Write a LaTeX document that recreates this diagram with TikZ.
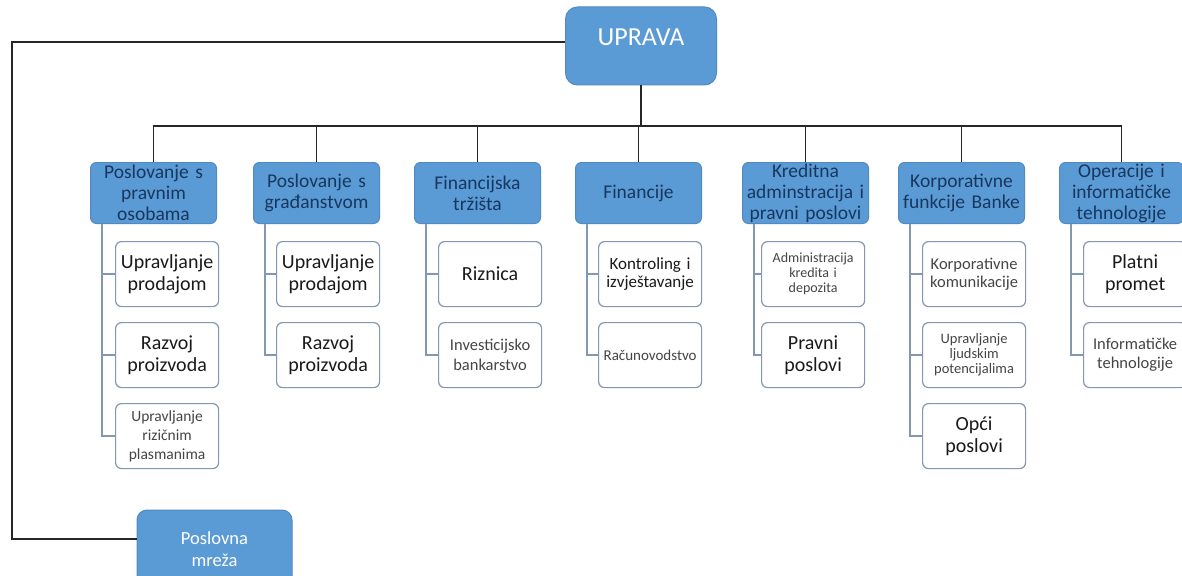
\documentclass[tikz,border=0pt]{standalone}
\usepackage{fontspec}
\setmainfont{Carlito}
\definecolor{ublue}{HTML}{5B9BD5}
\definecolor{ubord}{HTML}{4F8AC4}
\definecolor{navy}{HTML}{17375E}
\definecolor{kbord}{HTML}{8497B0}
\definecolor{ktext}{HTML}{1A1A1A}
\definecolor{ksmall}{HTML}{454545}
\newcommand{\fs}[2]{\fontsize{#1}{#2}\selectfont}
\begin{document}
\begin{tikzpicture}[x=1pt,y=-1pt,
  topbox/.style={fill=ublue,draw=ubord,line width=1pt,rounded corners=12pt,text=white,align=center},
  parbox/.style={fill=ublue,draw=ubord,line width=1pt,rounded corners=6pt,anchor=north west,
    minimum width=126pt,minimum height=61pt,text width=124pt,inner sep=1pt,align=center,
    text=navy,font=\fs{19.5}{21}},
  kid/.style={fill=white,draw=kbord,line width=1.2pt,rounded corners=6pt,anchor=north west,
    minimum width=103pt,minimum height=65pt,text width=101pt,inner sep=1pt,align=center,text=ktext},
  kbig/.style={kid,font=\fs{20}{22}},
  ksm/.style={kid,text=ksmall},
  bus/.style={draw=black!85,line width=1.6pt},
  sub/.style={draw=kbord,line width=1.5pt}]
\useasboundingbox (0,0) rectangle (1182,575);
\clip (0,0) rectangle (1182,575);
\fill[white] (0,0) rectangle (1182,575);

% top and network
\node[topbox,minimum width=151pt,minimum height=78pt,font=\fs{26}{28},text height=20pt,text depth=20pt,inner sep=0pt] (up) at (641,46) {UPRAVA};
\node[topbox,rounded corners=10pt,minimum width=155pt,minimum height=78pt,font=\fs{18.5}{22}] (pm) at (214.5,549) {Poslovna\\mreža};

% parents
\node[parbox] (p1) at (90,162) {Poslovanje s\\pravnim\\osobama};
\node[parbox] (p2) at (253,162) {Poslovanje s\\građanstvom};
\node[parbox] (p3) at (414,162) {Financijska\\tržišta};
\node[parbox] (p4) at (575,162) {Financije};
\node[parbox] (p5) at (742,162) {Kreditna\\adminstracija i\\pravni poslovi};
\node[parbox] (p6) at (898,162) {Korporativne\\funkcije Banke};
\node[parbox,minimum width=124pt,text width=122pt] (p7) at (1059,162) {Operacije i\\informatičke\\tehnologije};

% children
\node[kbig] (c11) at (115,241) {Upravljanje\\prodajom};
\node[kbig] (c12) at (115,322) {Razvoj\\proizvoda};
\node[ksm,font=\fs{15.5}{19}] (c13) at (115,403) {Upravljanje\\rizičnim\\plasmanima};

\node[kbig] (c21) at (276,241) {Upravljanje\\prodajom};
\node[kbig] (c22) at (276,322) {Razvoj\\proizvoda};

\node[kbig] (c31) at (438,241) {Riznica};
\node[ksm,font=\fs{16.5}{20}] (c32) at (438,322) {Investicijsko\\bankarstvo};

\node[kid,font=\fs{17}{18.5}] (c41) at (598,241) {Kontroling i\\izvještavanje};
\node[ksm,font=\fs{15}{18}] (c42) at (598,322) {Računovodstvo};

\node[ksm,font=\fs{14}{15}] (c51) at (761,241) {Administracija\\kredita i\\depozita};
\node[kbig] (c52) at (761,322) {Pravni\\poslovi};

\node[ksm,font=\fs{16.5}{18}] (c61) at (922,241) {Korporativne\\komunikacije};
\node[ksm,font=\fs{14.5}{15}] (c62) at (922,322) {Upravljanje\\ljudskim\\potencijalima};
\node[kbig] (c63) at (922,403) {Opći\\poslovi};

\node[kbig] (c71) at (1083,241) {Platni\\promet};
\node[ksm,font=\fs{16.5}{19}] (c72) at (1083,322) {Informatičke\\tehnologije};

% connectors
\coordinate (tl) at (12,42);
\coordinate (bl) at (12,539);
\draw[bus] (up.west |- tl) -- (tl) -- (bl) -- (pm.west |- bl);
\coordinate (hub) at (up.south |- 0,126);
\draw[bus] (up.south) -- (hub);
\foreach \i in {1,...,7} \draw[bus] (hub) -| (p\i.north);

\foreach \p/\kids in {1/{1,2,3},2/{1,2},3/{1,2},4/{1,2},5/{1,2},6/{1,2,3},7/{1,2}}{
  \foreach \k in \kids {
    \draw[sub] ([xshift=12pt]p\p.south west) |- (c\p\k.west);
  }
}
\end{tikzpicture}
\end{document}
